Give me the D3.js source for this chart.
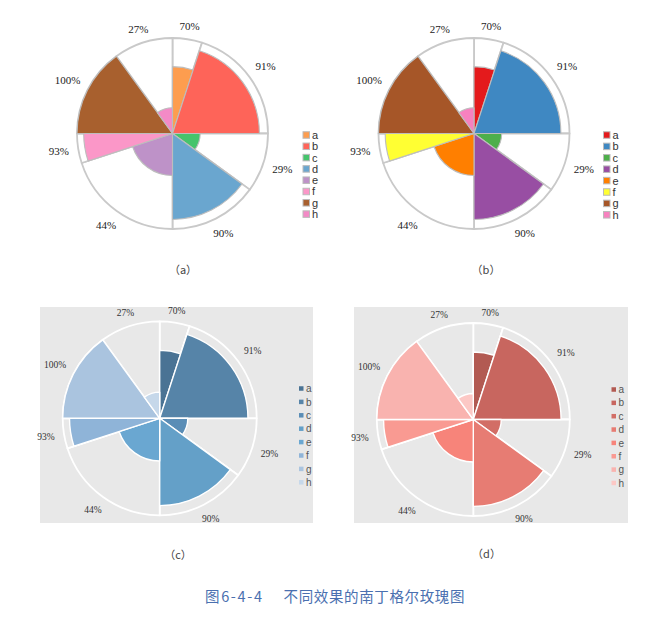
<!DOCTYPE html>
<html>
<head>
<meta charset="utf-8">
<script src="https://cdn.jsdelivr.net/npm/d3@7"></script>
<style>
  html, body { margin: 0; padding: 0; background: #ffffff; }
  svg { display: block; }
</style>
</head>
<body>
<svg id="chart" width="647" height="619"></svg>
<script>
// ---------------- data ----------------
const categories = ["a", "b", "c", "d", "e", "f", "g", "h"];
const angleShares = [5, 20, 10, 15, 20, 5, 15, 10];           // share of the circle (%)
const values = [0.70, 0.91, 0.29, 0.90, 0.44, 0.93, 1.00, 0.27]; // radius share
const colorsA = ["#fd9d4f", "#fe6459", "#46c46c", "#6aa6cf", "#be92c8", "#fb97c8", "#a8602e", "#f38ac6"];
const colorsB = ["#e41a1c", "#3f88c2", "#4daf4a", "#984ea3", "#ff7f00", "#ffff33", "#a65628", "#f781bf"];
const colorsC = ["#4a7394", "#5684a8", "#5a8db6", "#64a0c8", "#6aa7d1", "#8fb4d8", "#aac4df", "#c6d8ea"];
const colorsD = ["#b25a52", "#c8665f", "#d26e66", "#e77c73", "#f7847a", "#f99a92", "#f9b3af", "#fcc8c5"];
const panelLabels = ["（a）", "（b）", "（c）", "（d）"];
const figureNumber = "图6-4-4";
const figureTitle = "不同效果的南丁格尔玫瑰图";

// ---------------- drawing ----------------
const svg = d3.select("#chart");

const panels = [
  { colors: colorsA, cx: 172.5, cy: 133.5, R: 95.5, bg: null,
    bgFill: "#ffffff", bgStroke: "#c9c9c9", bgStrokeW: 1.8, fgStroke: "#bdbdbd", fgStrokeW: 1.1,
    labelSize: 11, labelColor: "#222",
    legend: { x: 303, y: 135, step: 11.3, sq: 6.5, size: 11, color: "#333", sqStroke: "#bbb" },
    cap: { x: 183, y: 270 } },
  { colors: colorsB, cx: 474, cy: 133.5, R: 95.5, bg: null,
    bgFill: "#ffffff", bgStroke: "#c9c9c9", bgStrokeW: 1.8, fgStroke: "#bdbdbd", fgStrokeW: 1.1,
    labelSize: 11, labelColor: "#222",
    legend: { x: 603.5, y: 135, step: 11.4, sq: 6.5, size: 11, color: "#333", sqStroke: "#bbb" },
    cap: { x: 486, y: 270 } },
  { colors: colorsC, cx: 159.7, cy: 418.3, R: 97, bg: { x: 40, y: 307, w: 273, h: 216 },
    bgFill: "#e8e8e8", bgStroke: "#ffffff", bgStrokeW: 1.8, fgStroke: "#ffffff", fgStrokeW: 1.4,
    labelSize: 9.5, labelColor: "#333",
    legend: { x: 299, y: 388.5, step: 13.4, sq: 4.5, size: 10, color: "#555", sqStroke: "none" },
    cap: { x: 178, y: 555 } },
  { colors: colorsD, cx: 473.3, cy: 419.5, R: 96.5, bg: { x: 354, y: 307, w: 274, h: 216 },
    bgFill: "#e8e8e8", bgStroke: "#ffffff", bgStrokeW: 1.8, fgStroke: "#ffffff", fgStrokeW: 1.4,
    labelSize: 9.5, labelColor: "#333",
    legend: { x: 611.5, y: 389.5, step: 13.35, sq: 4.5, size: 10, color: "#555", sqStroke: "none" },
    cap: { x: 486.5, y: 554 } }
];

const rows = categories.map((c, i) => ({ cat: c, share: angleShares[i], value: values[i] }));
const pie = d3.pie().sort(null).value(d => d.share);
const arcsData = pie(rows);
const pct = d3.format(".0%");

panels.forEach((p, pi) => {
  if (p.bg) {
    svg.append("rect").attr("x", p.bg.x).attr("y", p.bg.y)
      .attr("width", p.bg.w).attr("height", p.bg.h).attr("fill", "#e8e8e8");
  }
  const g = svg.append("g").attr("transform", `translate(${p.cx},${p.cy})`);
  const r = d3.scaleLinear().domain([0, 1]).range([0, p.R]);
  const color = d3.scaleOrdinal().domain(categories).range(p.colors);

  // full-radius background wedges
  const bgArc = d3.arc().innerRadius(0).outerRadius(r(1));
  g.selectAll("path.bgw").data(arcsData).join("path")
    .attr("class", "bgw")
    .attr("d", bgArc)
    .attr("fill", p.bgFill)
    .attr("stroke", p.bgStroke)
    .attr("stroke-width", p.bgStrokeW)
    .attr("stroke-linejoin", "round");

  // value wedges
  const valArc = d3.arc().innerRadius(0).outerRadius(d => r(d.data.value));
  g.selectAll("path.val").data(arcsData).join("path")
    .attr("class", "val")
    .attr("d", valArc)
    .attr("fill", d => color(d.data.cat))
    .attr("stroke", p.fgStroke)
    .attr("stroke-width", p.fgStrokeW)
    .attr("stroke-linejoin", "round");

  // percentage labels outside the circle
  const labels = g.selectAll("text.pct").data(arcsData).join("text")
    .attr("class", "pct")
    .attr("font-family", "'Liberation Serif', 'DejaVu Serif', serif")
    .attr("font-size", p.labelSize)
    .attr("fill", p.labelColor)
    .attr("text-anchor", "middle")
    .attr("dy", "0.35em")
    .text(d => pct(d.data.value));
  labels.each(function (d) {
    const w = this.getComputedTextLength();
    const h = p.labelSize * 0.9;
    const a = (d.startAngle + d.endAngle) / 2;
    const s = Math.abs(Math.sin(a)), c = Math.abs(Math.cos(a));
    const dist = r(1) + 6 + 3 * s + s * w / 2 + c * h / 2;
    d3.select(this).attr("x", Math.sin(a) * dist).attr("y", -Math.cos(a) * dist);
  });

  // legend
  const L = p.legend;
  const lg = svg.append("g");
  const item = lg.selectAll("g").data(categories).join("g")
    .attr("transform", (d, i) => `translate(${L.x},${L.y + i * L.step})`);
  item.append("rect")
    .attr("x", 0).attr("y", -L.sq / 2)
    .attr("width", L.sq).attr("height", L.sq)
    .attr("fill", d => color(d))
    .attr("stroke", L.sqStroke)
    .attr("stroke-width", 1);
  item.append("text")
    .attr("x", L.sq + 2.5).attr("y", 0).attr("dy", "0.36em")
    .attr("font-family", "'Liberation Sans', Arial, sans-serif")
    .attr("font-size", L.size)
    .attr("fill", L.color)
    .text(d => d);

  // panel caption
  svg.append("text")
    .attr("x", p.cap.x).attr("y", p.cap.y).attr("dy", "0.35em")
    .attr("text-anchor", "middle")
    .attr("font-family", "'Noto Sans CJK SC', sans-serif")
    .attr("font-size", 11)
    .attr("fill", "#444")
    .text(panelLabels[pi]);
});

// figure caption
svg.append("text")
  .attr("x", 205).attr("y", 597).attr("dy", "0.35em")
  .attr("font-family", "'Noto Sans CJK SC', sans-serif")
  .attr("font-size", 14.5)
  .attr("fill", "#4a70b0")
  .attr("textLength", 57).attr("lengthAdjust", "spacing")
  .text(figureNumber);
svg.append("text")
  .attr("x", 283.5).attr("y", 597).attr("dy", "0.35em")
  .attr("font-family", "'Noto Sans CJK SC', sans-serif")
  .attr("font-size", 14.5)
  .attr("fill", "#4a70b0")
  .attr("textLength", 181).attr("lengthAdjust", "spacing")
  .text(figureTitle);
</script>
</body>
</html>
